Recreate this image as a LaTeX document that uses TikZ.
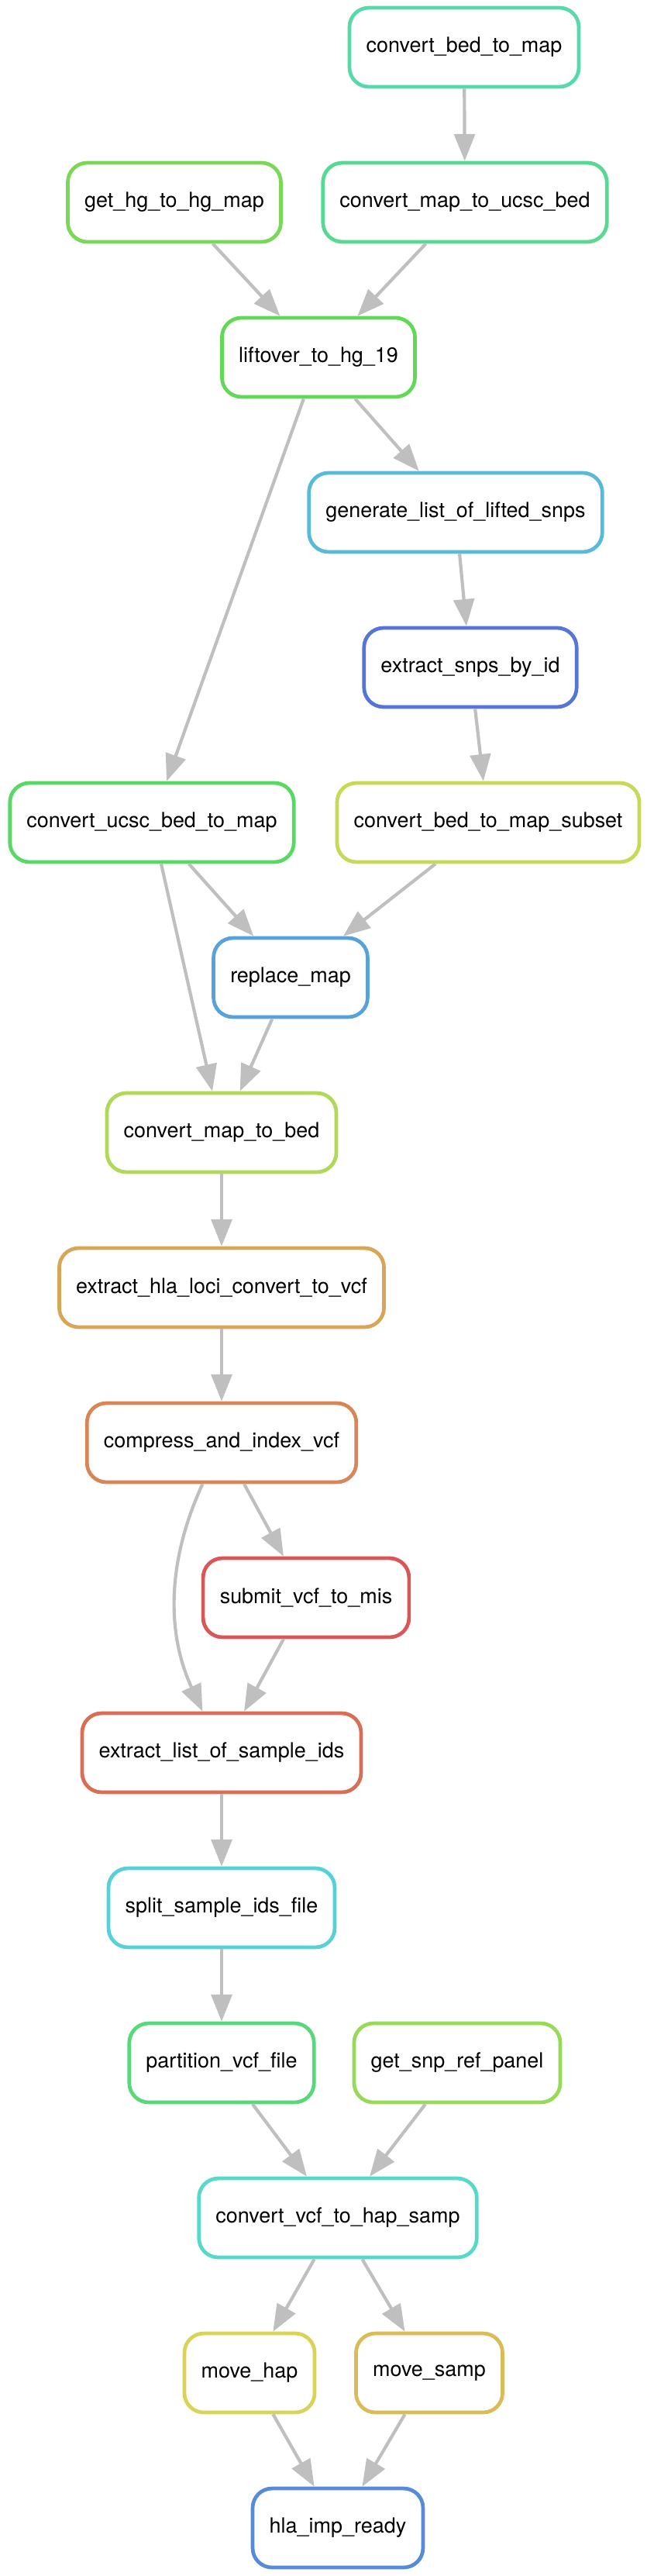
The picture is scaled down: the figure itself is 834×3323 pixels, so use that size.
\documentclass[tikz,border=0pt]{standalone}
\usepackage{fontspec}
\setmainfont{TeX Gyre Heros}
\usepackage{tikz}
\usetikzlibrary{arrows.meta}

% one colour per rule
\definecolor{cMis}{HTML}{D95757}
\definecolor{cIds}{HTML}{D96E57}
\definecolor{cCmp}{HTML}{D98657}
\definecolor{cHla}{HTML}{D9A557}
\definecolor{cMsamp}{HTML}{D9BC57}
\definecolor{cMhap}{HTML}{D9D457}
\definecolor{cSubset}{HTML}{C7D957}
\definecolor{cMapbed}{HTML}{AFD957}
\definecolor{cPanel}{HTML}{98D957}
\definecolor{cHgmap}{HTML}{79D957}
\definecolor{cLift}{HTML}{61D957}
\definecolor{cUcscmap}{HTML}{57D964}
\definecolor{cPart}{HTML}{57D97B}
\definecolor{cUcscbed}{HTML}{57D993}
\definecolor{cBedmap}{HTML}{57D9AA}
\definecolor{cHaps}{HTML}{57D9C9}
\definecolor{cSplit}{HTML}{57D1D9}
\definecolor{cLifted}{HTML}{57BAD9}
\definecolor{cRepl}{HTML}{57A2D9}
\definecolor{cReady}{HTML}{578BD9}
\definecolor{cSnpid}{HTML}{5774D9}

\begin{document}
\begin{tikzpicture}[x=0.36pt, y=-0.36pt,
    job/.style={draw=#1, line width=1.7pt, rounded corners=9pt, fill=white,
        minimum height=36.7pt, minimum width=55pt, inner xsep=7.8pt,
        font=\fontsize{9.7}{11}\selectfont},
    link/.style={draw=gray!50, line width=1.5pt, -{Triangle[length=12.5pt, width=9.6pt]}}]

    \useasboundingbox (0,0) rectangle (834,3323);

    % Lifting the map to hg19
    \node[job=cBedmap] (bedmap) at (599,61) {convert\_bed\_to\_map};
    \node[job=cHgmap] (hgmap) at (225,261) {get\_hg\_to\_hg\_map};
    \node[job=cUcscbed] (ucscbed) at (600,261) {convert\_map\_to\_ucsc\_bed};
    \node[job=cLift] (lift) at (411,461) {liftover\_to\_hg\_19};
    \node[job=cLifted] (lifted) at (588,661) {generate\_list\_of\_lifted\_snps};
    \node[job=cSnpid] (snpid) at (607,861) {extract\_snps\_by\_id};
    \node[job=cUcscmap] (ucscmap) at (196,1061) {convert\_ucsc\_bed\_to\_map};
    \node[job=cSubset] (subset) at (630,1061) {convert\_bed\_to\_map\_subset};
    \node[job=cRepl] (repl) at (375,1261) {replace\_map};
    \node[job=cMapbed] (mapbed) at (286,1461) {convert\_map\_to\_bed};

    % VCF and samples
    \node[job=cHla] (hla) at (286,1661) {extract\_hla\_loci\_convert\_to\_vcf};
    \node[job=cCmp] (cmp) at (286,1861) {compress\_and\_index\_vcf};
    \node[job=cMis] (mis) at (395,2061) {submit\_vcf\_to\_mis};
    \node[job=cIds] (ids) at (286,2261) {extract\_list\_of\_sample\_ids};
    \node[job=cSplit] (split) at (286,2461) {split\_sample\_ids\_file};
    \node[job=cPart] (part) at (286,2661) {partition\_vcf\_file};
    \node[job=cPanel] (panel) at (590,2661) {get\_snp\_ref\_panel};

    % hap / samp output
    \node[job=cHaps] (haps) at (436,2861) {convert\_vcf\_to\_hap\_samp};
    \node[job=cMhap] (mhap) at (322,3061) {move\_hap};
    \node[job=cMsamp] (msamp) at (554,3061) {move\_samp};
    \node[job=cReady] (ready) at (436,3261) {hla\_imp\_ready};

    % Dependencies
    \foreach \a/\b in {bedmap/ucscbed, hgmap/lift, ucscbed/lift, lift/lifted,
        lift/ucscmap, lifted/snpid, snpid/subset, ucscmap/repl, subset/repl,
        ucscmap/mapbed, repl/mapbed, mapbed/hla, hla/cmp, cmp/mis, mis/ids,
        ids/split, split/part, part/haps, panel/haps, haps/mhap, haps/msamp,
        mhap/ready, msamp/ready} {
        \draw[link] (\a) -- (\b);
    }
    \draw[link] (cmp) .. controls (215,2015) and (215,2107) .. (ids);

\end{tikzpicture}
\end{document}
